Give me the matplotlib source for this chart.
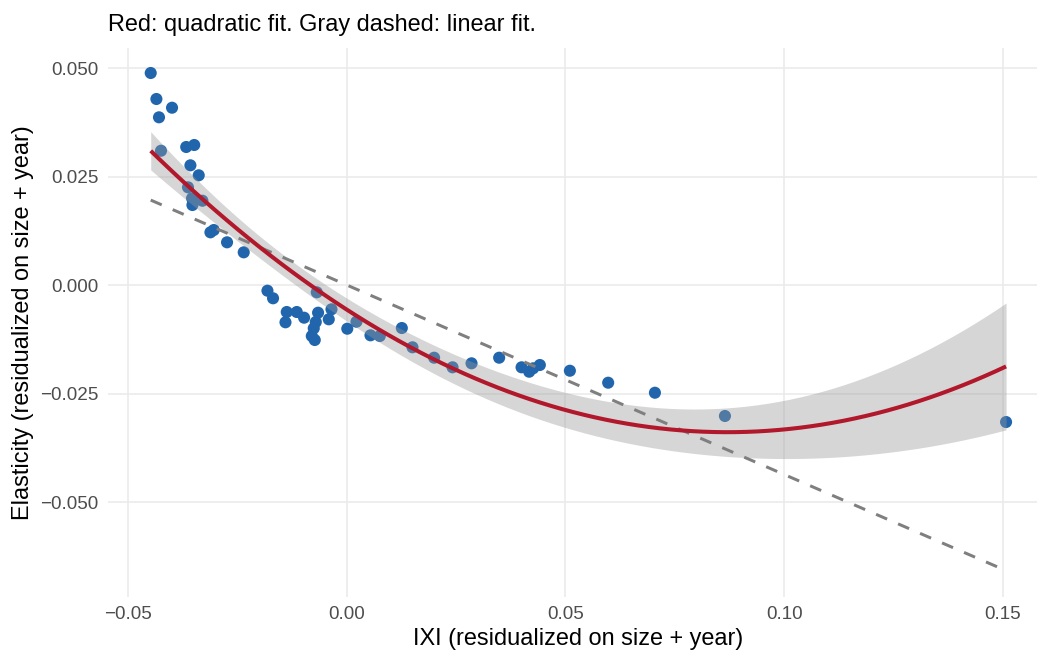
import numpy as np
import matplotlib
matplotlib.use("Agg")
import matplotlib.pyplot as plt

# Residualized IXI (x) and residualized elasticity (y)
ixi_resid = [
    -0.04474, -0.04344, -0.03987, -0.04285, -0.04239, -0.03663, -0.03480, -0.03567,
    -0.03377, -0.03622, -0.03530, -0.03521, -0.03293, -0.03110, -0.03034, -0.02730,
    -0.02349, -0.01807, -0.01679, -0.01366, -0.01137, -0.01395, -0.00970, -0.00650,
    -0.00703, -0.00749, -0.00794, -0.00726, -0.00680, -0.00344, -0.00406, 0.00017,
    0.00227, 0.00547, 0.00760, 0.01263, 0.01507, 0.02001, 0.02422, 0.02856,
    0.03487, 0.03999, 0.04173, 0.04264, 0.04417, 0.05103, 0.05978, 0.07046,
    0.08646, 0.15069,
]
elasticity_resid = [
    0.04885, 0.04286, 0.04085, 0.03864, 0.03094, 0.03180, 0.03226, 0.02758,
    0.02528, 0.02251, 0.01998, 0.01843, 0.01942, 0.01214, 0.01267, 0.00984,
    0.00753, -0.00131, -0.00306, -0.00622, -0.00622, -0.00859, -0.00753, -0.00638,
    -0.00853, -0.00998, -0.01175, -0.01267, -0.00168, -0.00560, -0.00790, -0.01007,
    -0.00846, -0.01159, -0.01175, -0.00991, -0.01435, -0.01675, -0.01896, -0.01804,
    -0.01675, -0.01896, -0.01998, -0.01919, -0.01843, -0.01975, -0.02251, -0.02482,
    -0.03018, -0.03157,
]

x_ticks = [-0.05, 0.00, 0.05, 0.10, 0.15]
x_ticklabels = ["\u22120.05", "0.00", "0.05", "0.10", "0.15"]
y_ticks = [-0.050, -0.025, 0.000, 0.025, 0.050]
y_ticklabels = ["\u22120.050", "\u22120.025", "0.000", "0.025", "0.050"]

T_CRIT = 2.0117  # t quantile, 0.975, 47 df

x = np.asarray(ixi_resid)
y = np.asarray(elasticity_resid)

# Quadratic OLS fit with 95% confidence band
X = np.column_stack([np.ones_like(x), x, x ** 2])
beta, *_ = np.linalg.lstsq(X, y, rcond=None)
resid = y - X @ beta
dof = len(y) - X.shape[1]
sigma2 = resid @ resid / dof
xtx_inv = np.linalg.inv(X.T @ X)

xs = np.linspace(x.min(), x.max(), 80)
Xs = np.column_stack([np.ones_like(xs), xs, xs ** 2])
fit_q = Xs @ beta
se_q = np.sqrt(np.einsum("ij,jk,ik->i", Xs, xtx_inv, Xs) * sigma2)

# Linear OLS fit
lin = np.polyfit(x, y, 1)
fit_l = np.polyval(lin, xs)

DPI = 154
fig = plt.figure(figsize=(1037 / DPI, 651 / DPI), dpi=DPI)
fig.patch.set_facecolor("white")
ax = fig.add_axes([108 / 1037, 1 - 596.5 / 651, (1049 - 108) / 1037, (596.5 - 48) / 651])
ax.set_facecolor("white")

font = ["Liberation Sans", "DejaVu Sans"]

ax.scatter(x, y, s=32, color="#2166AC", edgecolors="none", zorder=2)
ax.fill_between(xs, fit_q - T_CRIT * se_q, fit_q + T_CRIT * se_q,
                color="#999999", alpha=0.4, linewidth=0, zorder=3)
ax.plot(xs, fit_l, color="#7F7F7F", linewidth=1.4, dashes=(4, 4), zorder=4)
ax.plot(xs, fit_q, color="#B2182B", linewidth=1.9, zorder=5,
        solid_capstyle="butt")

ax.set_xlim(-0.0545, 0.1605)
ax.set_ylim(-0.07177, 0.05461)

ax.set_xticks(x_ticks)
ax.set_xticklabels(x_ticklabels, family=font, fontsize=8.8, color="#4D4D4D")
ax.set_yticks(y_ticks)
ax.set_yticklabels(y_ticklabels, family=font, fontsize=8.8, color="#4D4D4D")
ax.tick_params(length=0, pad=4.4)
ax.grid(True, color="#EBEBEB", linewidth=0.75, zorder=0)
ax.set_axisbelow(True)
for sp in ax.spines.values():
    sp.set_visible(False)

ax.set_xlabel("IXI (residualized on size + year)", family=font, fontsize=11,
              color="black", labelpad=2.5)
ax.set_ylabel("Elasticity (residualized on size + year)", family=font, fontsize=11,
              color="black", labelpad=3)
ax.set_title("Red: quadratic fit. Gray dashed: linear fit.", family=font,
             fontsize=11, color="black", loc="left", pad=8)

fig.savefig("out.png", dpi=DPI, facecolor="white")
